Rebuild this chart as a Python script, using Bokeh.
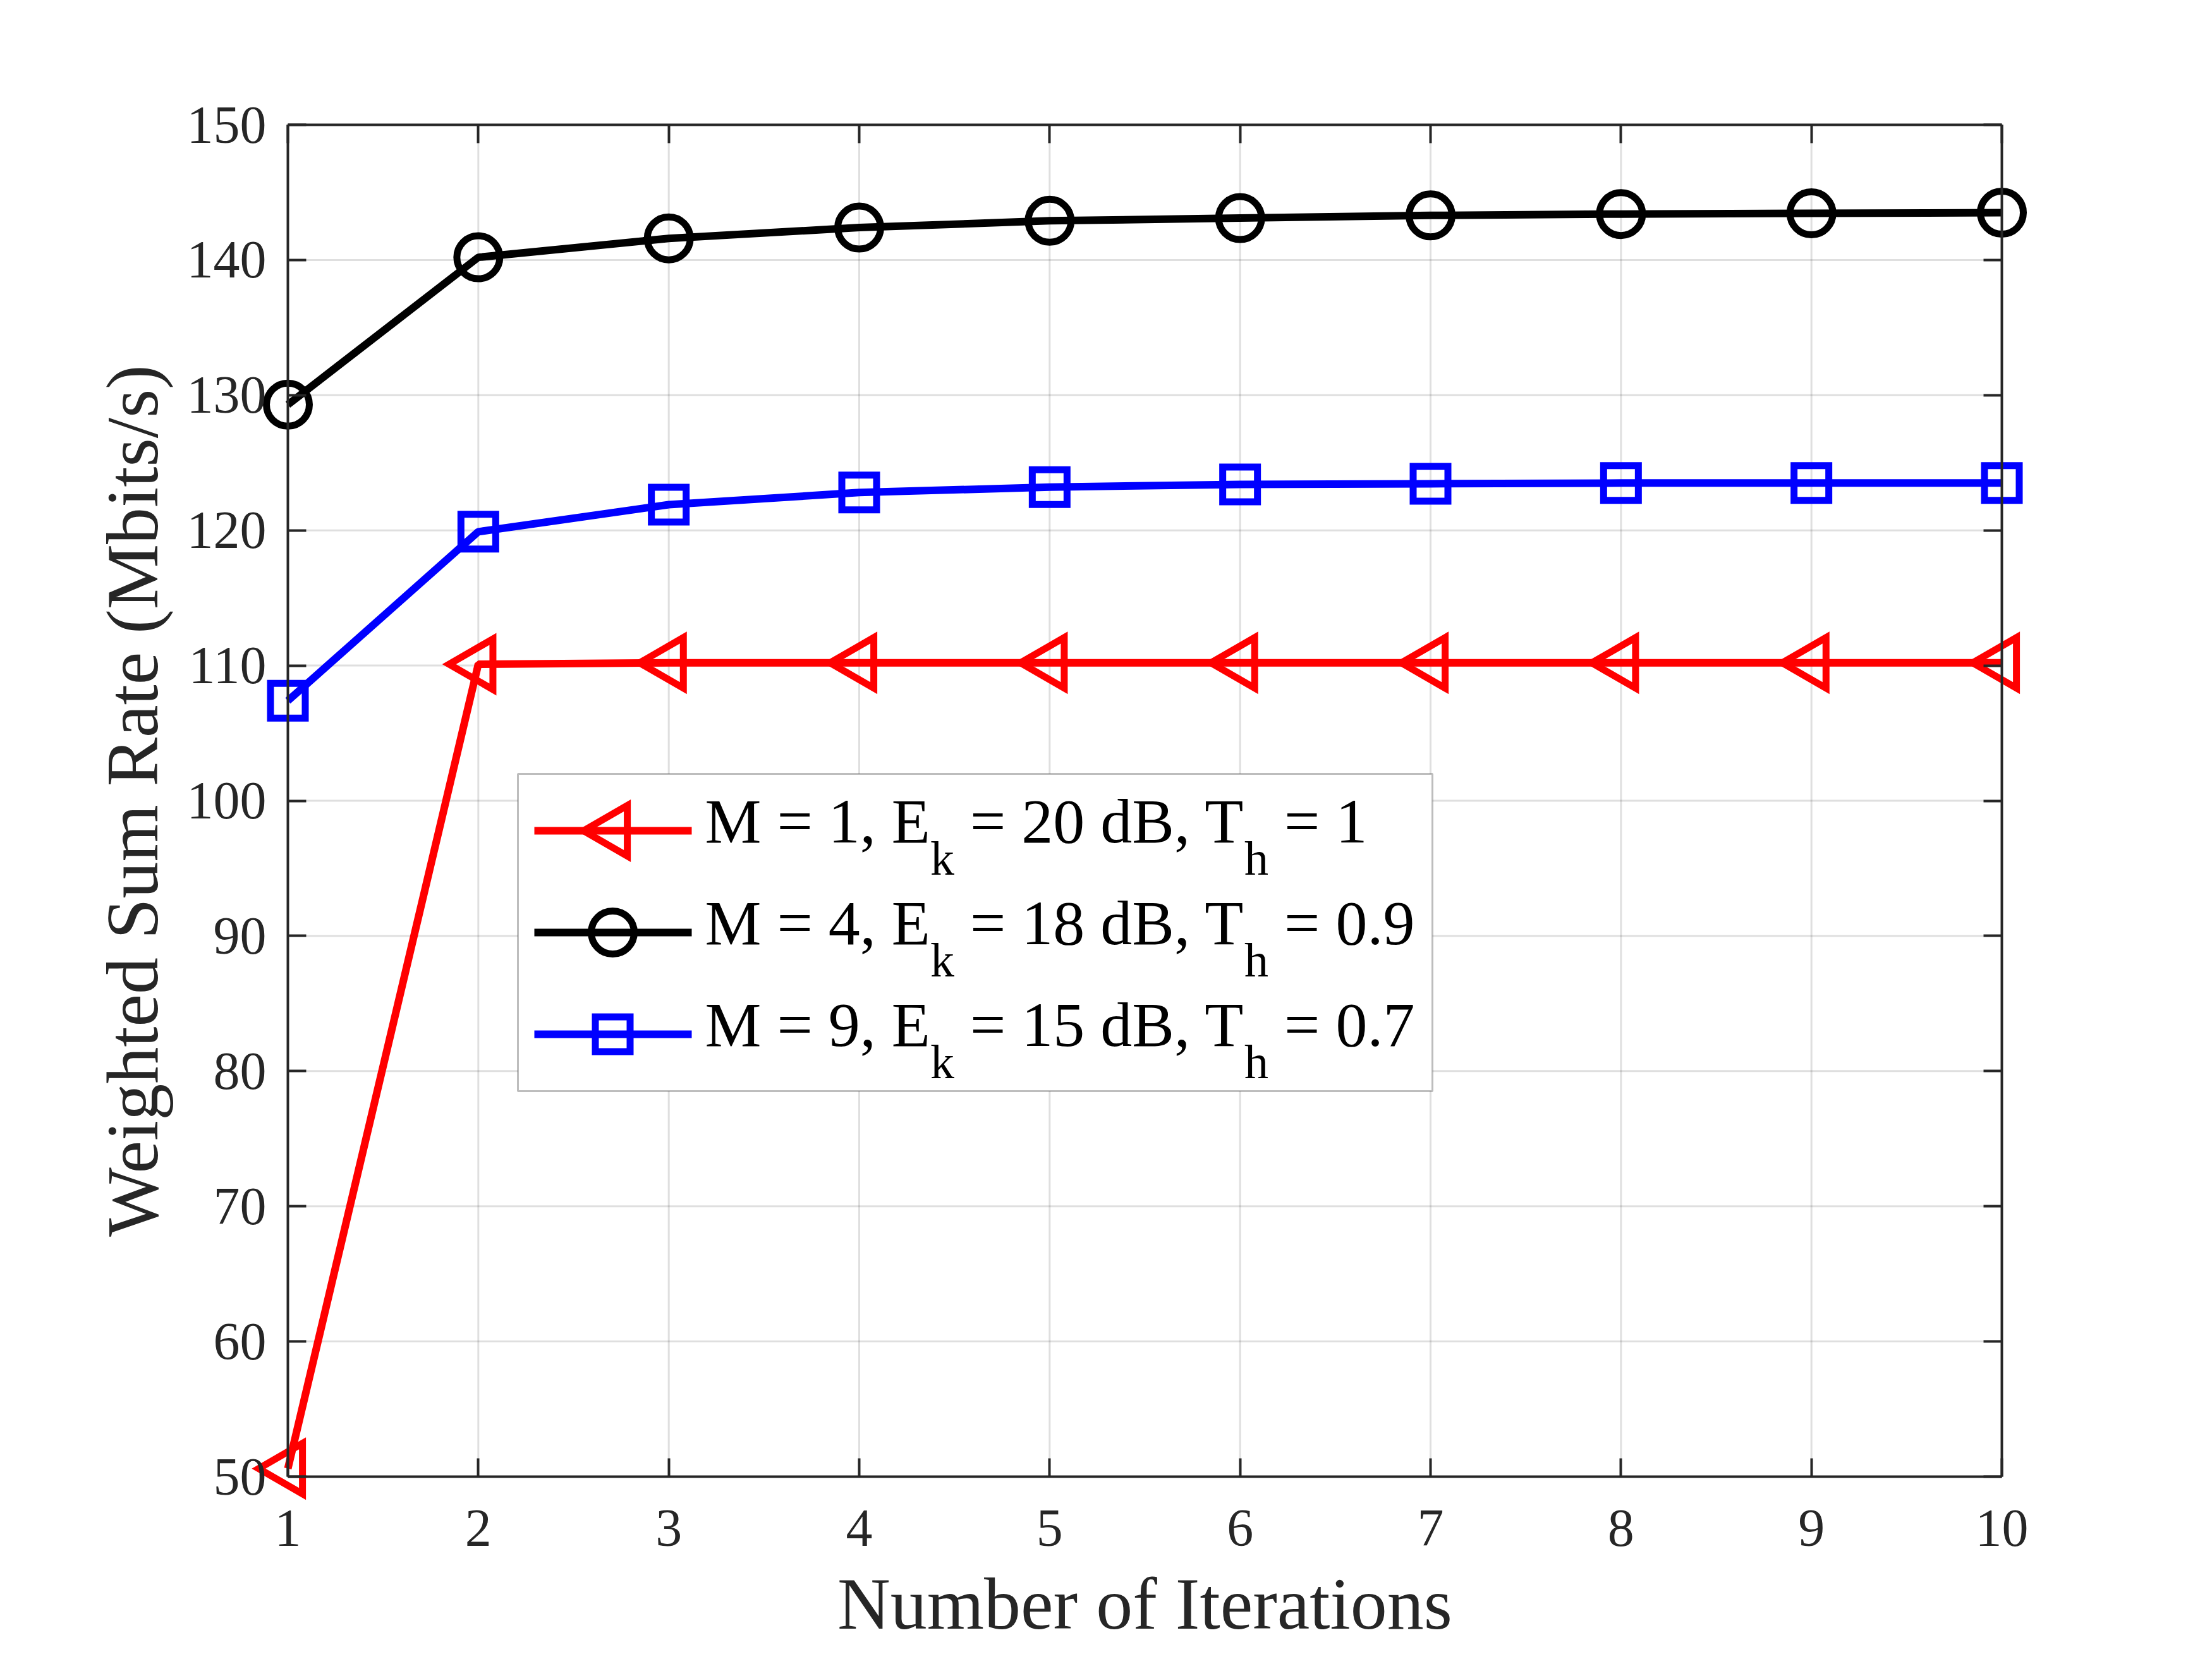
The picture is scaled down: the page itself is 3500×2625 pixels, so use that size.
from math import pi
from bokeh.plotting import figure
from bokeh.models import Range1d, FixedTicker, LinearAxis, BoxAnnotation, Label
from bokeh.embed import file_html
from bokeh.resources import INLINE

# ---------------- data ----------------
iterations = [1, 2, 3, 4, 5, 6, 7, 8, 9, 10]
rate_m1 = [50.6, 110.1, 110.2, 110.2, 110.2, 110.2, 110.2, 110.2, 110.2, 110.2]
rate_m4 = [129.3, 140.2, 141.6, 142.4, 142.9, 143.1, 143.3, 143.4, 143.45, 143.5]
rate_m9 = [107.4, 119.9, 121.9, 122.8, 123.2, 123.4, 123.45, 123.5, 123.5, 123.5]
x_ticks = [1, 2, 3, 4, 5, 6, 7, 8, 9, 10]
y_ticks = [50, 60, 70, 80, 90, 100, 110, 120, 130, 140, 150]
x_title = "Number of Iterations"
y_title = "Weighted Sum Rate (Mbits/s)"
legend_m = ["1", "4", "9"]
legend_e = ["20", "18", "15"]
legend_t = ["1", "0.9", "0.7"]

# ---------------- layout (page pixels) ----------------
FIG_W, FIG_H = 3500, 2625
AX_L, AX_R, AX_T, AX_B = 455, 3167, 197, 2336
X0, X1 = x_ticks[0], x_ticks[-1]
Y0, Y1 = y_ticks[0], y_ticks[-1]
UX = (X1 - X0) / (AX_R - AX_L)
UY = (Y1 - Y0) / (AX_B - AX_T)


def dx(px):
    return X0 + (px - AX_L) * UX


def dy(py):
    return Y1 - (py - AX_T) * UY


FONT = "Liberation Serif"
AXC = "#262626"

# the frame covers the whole canvas, so markers at the box edge are not cut
p = figure(width=FIG_W, height=FIG_H, frame_width=FIG_W, frame_height=FIG_H,
           x_range=Range1d(dx(0), dx(FIG_W)),
           y_range=Range1d(dy(FIG_H), dy(0)),
           output_backend="svg", toolbar_location=None,
           min_border_left=0, min_border_top=0,
           min_border_right=0, min_border_bottom=0,
           background_fill_color="white", border_fill_color="white",
           outline_line_color=None)
p.xgrid.visible = False
p.ygrid.visible = False


def style_axis(ax, ticks, show_labels):
    ax.ticker = FixedTicker(ticks=ticks)
    ax.axis_line_color = AXC
    ax.axis_line_width = 4
    ax.major_tick_line_color = AXC
    ax.major_tick_line_width = 4
    ax.major_tick_in = 29
    ax.major_tick_out = 0
    ax.minor_tick_line_color = None
    ax.major_label_text_font = FONT
    ax.axis_label_text_font = FONT
    ax.axis_label_text_font_size = "116px"
    ax.axis_label_text_font_style = "normal"
    ax.axis_label_text_color = AXC
    if show_labels:
        ax.major_label_text_font_size = "84px"
        ax.major_label_text_color = AXC
    else:
        ax.major_label_overrides = {t: "" for t in ticks}
        ax.major_label_text_font_size = "1px"
        ax.major_label_text_color = None
        ax.major_label_standoff = 0


xa = p.xaxis[0]
style_axis(xa, x_ticks, True)
xa.fixed_location = Y0
xa.bounds = (X0, X1)
xa.major_label_standoff = 53
xa.axis_label = x_title
xa.axis_label_standoff = 25

ya = p.yaxis[0]
style_axis(ya, y_ticks, True)
ya.fixed_location = X0
ya.bounds = (Y0, Y1)
ya.major_label_standoff = 34
ya.axis_label = y_title
ya.axis_label_standoff = 19

top = LinearAxis(fixed_location=Y1, bounds=(X0, X1))
style_axis(top, x_ticks, False)
p.add_layout(top, "above")
right = LinearAxis(fixed_location=X1, bounds=(Y0, Y1))
style_axis(right, y_ticks, False)
p.add_layout(right, "right")

# grid lines at the interior ticks
gx = x_ticks[1:-1]
p.segment(x0=gx, y0=[Y0] * len(gx), x1=gx, y1=[Y1] * len(gx),
          line_color=AXC, line_alpha=0.15, line_width=3, level="underlay")
gy = y_ticks[1:-1]
p.segment(x0=[X0] * len(gy), y0=gy, x1=[X1] * len(gy), y1=gy,
          line_color=AXC, line_alpha=0.15, line_width=3, level="underlay")

series = [
    (rate_m1, "#ff0000", "triangle", 80, pi / 2),
    (rate_m4, "#000000", "circle", 68, 0.0),
    (rate_m9, "#0000ff", "square", 55, 0.0),
]
LW = 12
for vals, col, mk, sz, ang in series:
    p.line(iterations, vals, line_color=col, line_width=LW)
    p.scatter(iterations, vals, marker=mk, size=sz, angle=ang, fill_color=None,
              line_color=col, line_width=LW - 1, line_join="miter")

# ---------------- legend ----------------
LEG_L, LEG_R, LEG_T, LEG_B = 819, 2266, 1224, 1726
ROW_Y = [1314, 1475, 1636]
S_X0, S_X1, S_XM = 845, 1094, 969
TEXT_X = 1115
MAIN_FS, SUB_FS = 100, 76
BASE_OFF, SUB_OFF = -15, 43
ADV = {' ': 250, '=': 564, ',': 250, '.': 250, 'M': 889, 'E': 611, 'T': 611,
       'd': 500, 'B': 667, 'k': 500, 'h': 500}
for ch in "0123456789":
    ADV[ch] = 500


def tw(s, fs):
    return sum(ADV[c] for c in s) * fs / 1000.0


p.add_layout(BoxAnnotation(left=dx(LEG_L), right=dx(LEG_R), top=dy(LEG_T), bottom=dy(LEG_B),
                           fill_color="white", fill_alpha=1.0, line_color=AXC,
                           line_width=3, level="annotation"))

for i, (vals, col, mk, sz, ang) in enumerate(series):
    yy = dy(ROW_Y[i])
    p.segment(x0=[dx(S_X0)], y0=[yy], x1=[dx(S_X1)], y1=[yy],
              line_color=col, line_width=LW, level="overlay")
    p.scatter(x=[dx(S_XM)], y=[yy], marker=mk, size=sz, angle=ang, fill_color=None,
              line_color=col, line_width=LW - 1, line_join="miter", level="overlay")
    p1 = "M = %s, E" % legend_m[i]
    p2 = "= %s dB, T" % legend_e[i]
    p3 = "= %s" % legend_t[i]
    x1 = TEXT_X
    xs1 = x1 + tw(p1, MAIN_FS)
    x2 = xs1 + tw("k", SUB_FS) + tw(" ", MAIN_FS)
    xs2 = x2 + tw(p2, MAIN_FS)
    x3 = xs2 + tw("h", SUB_FS) + tw(" ", MAIN_FS)
    yb = dy(ROW_Y[i] + BASE_OFF)
    ys = dy(ROW_Y[i] + SUB_OFF)
    for txt, xp, yp, fs in [(p1, x1, yb, MAIN_FS), ("k", xs1, ys, SUB_FS),
                            (p2, x2, yb, MAIN_FS), ("h", xs2, ys, SUB_FS),
                            (p3, x3, yb, MAIN_FS)]:
        p.add_layout(Label(x=dx(xp), y=yp, text=txt, text_align="left",
                           text_baseline="alphabetic", text_font=FONT,
                           text_font_size="%dpx" % fs, text_color="#000000",
                           level="overlay"))

open("out.html", "w").write(file_html(p, INLINE))
